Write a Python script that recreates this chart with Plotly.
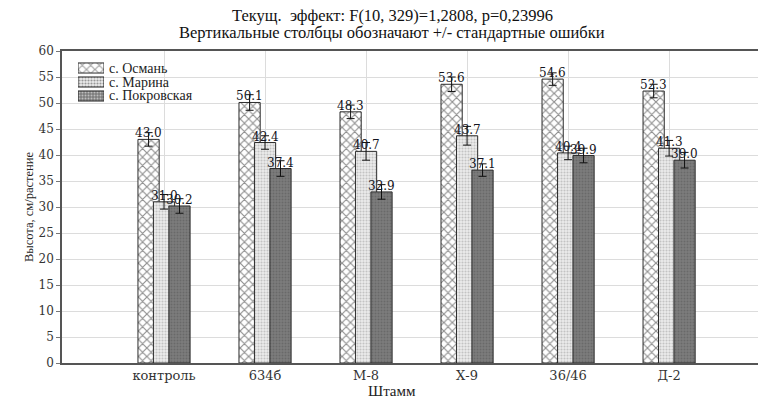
import plotly.graph_objects as go

# Strains (x categories) and mean plant height per village, with standard errors
strains = ["контроль", "634б", "М-8", "Х-9", "36/46", "Д-2"]
series_names = ["с. Османь", "с. Марина", "с. Покровская"]
osman = [43.0, 50.1, 48.3, 53.6, 54.6, 52.3]
marina = [31.0, 42.4, 40.7, 43.7, 40.4, 41.3]
pokrovskaya = [30.2, 37.4, 32.9, 37.1, 39.9, 39.0]
osman_se = [1.3, 1.5, 1.3, 1.4, 1.2, 1.3]
marina_se = [1.4, 1.3, 1.7, 1.8, 1.3, 1.5]
pokrovskaya_se = [1.4, 1.5, 1.4, 1.2, 1.4, 1.5]
y_ticks = list(range(0, 61, 5))

values = [osman, marina, pokrovskaya]
errors = [osman_se, marina_se, pokrovskaya_se]

# canvas and plot-area geometry (pixels)
W, H = 758, 398
ML, MR, MT, MB = 62, 0, 51, 35
PW, PH = W - ML - MR, H - MT - MB


def px_x(x):
    return (x - ML) / PW


def px_y(y):
    return 1 - (y - MT) / PH


BAR_W = 0.21
shifts = [-0.153, 0.0, 0.153]
patterns = [
    dict(shape="x", fgcolor="#1f1f1f", bgcolor="white", size=6, solidity=0.35),
    dict(shape=".", fgcolor="#9a9a9a", bgcolor="#ececec", size=3, solidity=0.4),
    dict(shape=".", fgcolor="#555555", bgcolor="#7c7c7c", size=3, solidity=0.35),
]

SERIF = "Liberation Serif, Times New Roman, serif"
LABEL_FONT = "DejaVu Serif, serif"

fig = go.Figure()
for name, vals, errs, shift, pat in zip(series_names, values, errors, shifts, patterns):
    fig.add_trace(go.Bar(
        x=strains, y=vals, name=name, showlegend=False,
        width=BAR_W, offset=shift - BAR_W / 2,
        marker=dict(color=pat["bgcolor"], pattern=pat,
                    line=dict(color="#2b2b2b", width=1)),
        error_y=dict(type="data", array=errs, visible=True,
                     color="#111111", thickness=1, width=4),
    ))

# legend keys: small patterned swatches on their own tiny axes
fig.add_trace(go.Bar(
    x=[1, 1, 1], y=[0, 1, 2], orientation="h", width=0.72,
    xaxis="x2", yaxis="y2", showlegend=False, hoverinfo="skip",
    marker=dict(
        color=[p["bgcolor"] for p in patterns],
        pattern=dict(shape=[p["shape"] for p in patterns],
                     fgcolor=[p["fgcolor"] for p in patterns],
                     bgcolor=[p["bgcolor"] for p in patterns],
                     size=[p["size"] for p in patterns],
                     solidity=[p["solidity"] for p in patterns]),
        line=dict(color="#2b2b2b", width=1),
    ),
))

annotations = []
# value labels above each bar
for vals, shift in zip(values, shifts):
    for i, v in enumerate(vals):
        annotations.append(dict(
            x=i + shift, y=v, xref="x", yref="y", text=f"{v:.1f}",
            showarrow=False, yanchor="bottom", yshift=-3,
            font=dict(family=LABEL_FONT, size=12, color="#141420"),
        ))

# legend texts
for k, name in enumerate(series_names):
    annotations.append(dict(
        x=px_x(107), y=px_y(68 + 14 * k), xref="paper", yref="paper",
        text=name, showarrow=False, xanchor="left", yanchor="middle",
        font=dict(family=SERIF, size=14, color="#222"),
    ))

# two-line heading
annotations += [
    dict(x=px_x(392), y=px_y(16), xref="paper", yref="paper",
         text="Текущ.  эффект: F(10, 329)=1,2808, p=0,23996",
         showarrow=False, yanchor="middle",
         font=dict(family=SERIF, size=16.5, color="#111")),
    dict(x=px_x(392), y=px_y(33), xref="paper", yref="paper",
         text="Вертикальные столбцы обозначают +/- стандартные ошибки",
         showarrow=False, yanchor="middle",
         font=dict(family=SERIF, size=16.5, color="#111")),
    dict(x=px_x(392), y=px_y(391), xref="paper", yref="paper",
         text="Штамм", showarrow=False, yanchor="middle",
         font=dict(family=SERIF, size=15, color="#222")),
    dict(x=px_x(20), y=0.5, xref="paper", yref="paper",
         text="Высота, см/растение", textangle=-90, showarrow=False,
         font=dict(family=SERIF, size=12.5, color="#222")),
]

fig.update_layout(
    width=W, height=H,
    margin=dict(l=ML, r=MR, t=MT, b=MB, pad=0),
    paper_bgcolor="white", plot_bgcolor="white",
    barmode="overlay",
    showlegend=False,
    annotations=annotations,
    xaxis=dict(
        type="category", range=[-1.01, 5.88],
        showgrid=True, gridcolor="#dcdcdc", gridwidth=1,
        showline=True, linecolor="#555", linewidth=1.5, mirror=True,
        ticks="", tickfont=dict(family=LABEL_FONT, size=13, color="#333"),
        zeroline=False,
    ),
    yaxis=dict(
        range=[0, 60], tickvals=y_ticks,
        showgrid=True, gridcolor="#dcdcdc", gridwidth=1,
        showline=True, linecolor="#555", linewidth=1.5,
        ticks="outside", ticklen=4, tickcolor="#777",
        tickfont=dict(family=LABEL_FONT, size=12, color="#333"),
        zeroline=False,
    ),
    xaxis2=dict(domain=[px_x(78), px_x(104)], range=[0, 1], anchor="y2",
                visible=False, fixedrange=True),
    yaxis2=dict(domain=[px_y(103), px_y(61)], range=[2.5, -0.5], anchor="x2",
                visible=False, fixedrange=True),
)

fig.write_html("out.html")
